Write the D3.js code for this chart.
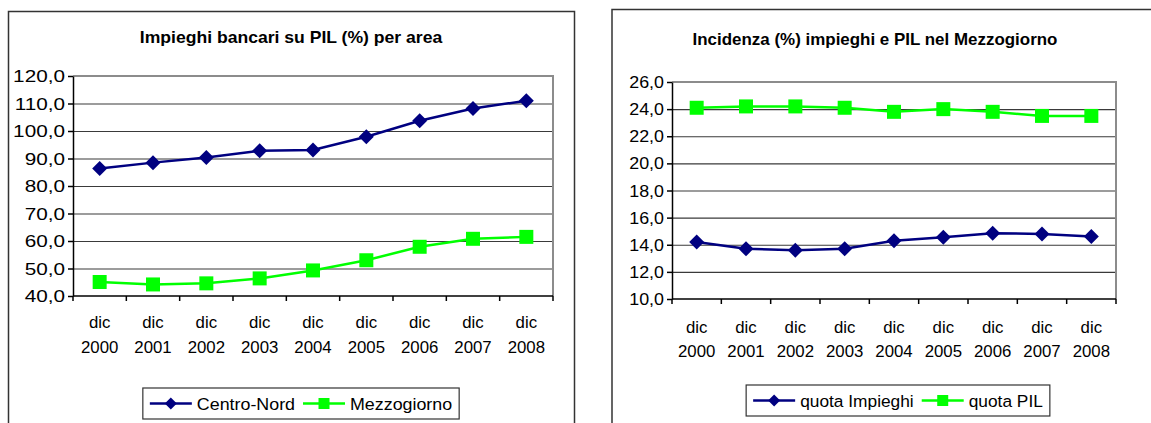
<!DOCTYPE html>
<html>
<head>
<meta charset="utf-8">
<script src="https://cdn.jsdelivr.net/npm/d3@7"></script>
<style>
  body { margin: 0; background: #fff; }
  svg { display: block; font-family: "Liberation Sans", Arial, sans-serif; }
</style>
</head>
<body>
<svg id="chart" width="1151" height="423"></svg>
<script>
var years = ["2000", "2001", "2002", "2003", "2004", "2005", "2006", "2007", "2008"]
var month = "dic"

var centroNord = [86.4, 88.5, 90.4, 92.8, 93.1, 97.9, 103.7, 108.2, 111.0]
var mezzogiorno = [45.1, 44.2, 44.6, 46.4, 49.3, 53.0, 57.9, 60.8, 61.5]
var leftTicks = [40, 50, 60, 70, 80, 90, 100, 110, 120]

var quotaImpieghi = [14.2, 13.7, 13.6, 13.7, 14.3, 14.55, 14.85, 14.8, 14.6]
var quotaPil = [24.1, 24.2, 24.2, 24.1, 23.8, 24.0, 23.8, 23.5, 23.5]
var rightTicks = [10, 12, 14, 16, 18, 20, 22, 24, 26]

var navy = "#000080", green = "#00ff00"
var sx = 1.05  // the picture is a bit stretched sideways

var svg = d3.select("#chart")
var itLocale = d3.formatLocale({ decimal: ",", thousands: ".", grouping: [3], currency: ["", "€"] })
var fmt = itLocale.format(".1f")

var diamond = function (r) { return "M0," + (-r) + "L" + r + ",0L0," + r + "L" + (-r) + ",0Z" }
var square = function (r) { return "M" + (-r) + "," + (-r) + "h" + (2 * r) + "v" + (2 * r) + "h" + (-2 * r) + "Z" }

function stretchedText(g, x, y, str, size, anchor, weight, stretch) {
    return g.append("text")
        .attr("transform", "translate(" + x + "," + y + ") scale(" + (stretch || sx) + ",1)")
        .attr("text-anchor", anchor)
        .style("font-size", size + "px")
        .style("font-weight", weight || "normal")
        .style("fill", "#000")
        .text(str)
}

function drawPanel(cfg) {
    var g = svg.append("g")

    // chart frame
    g.append("rect")
        .attr("x", cfg.box[0]).attr("y", cfg.box[1])
        .attr("width", cfg.box[2]).attr("height", cfg.box[3])
        .attr("fill", "#fff").attr("stroke", "#333").attr("stroke-width", 1.5)

    stretchedText(g, cfg.titleX, cfg.titleY, cfg.title, 16, "middle", "bold", cfg.titleStretch)

    var x = d3.scaleBand().domain(years).range([cfg.plot[0], cfg.plot[1]])
    var y = d3.scaleLinear().domain([cfg.ticks[0], cfg.ticks[cfg.ticks.length - 1]])
        .range([cfg.plot[3], cfg.plot[2]])
    var w = cfg.plot[1] - cfg.plot[0]

    // gridlines
    g.append("g")
        .attr("transform", "translate(" + cfg.plot[0] + ",0)")
        .call(d3.axisLeft(y).tickValues(cfg.ticks.slice(1, -1)).tickSize(-w).tickFormat(""))
        .call(function (a) { a.select(".domain").remove() })
        .selectAll("line").attr("stroke", "#3a3a3a").attr("stroke-width", 1.2)

    // plot border top / right (grey)
    g.append("path")
        .attr("d", "M" + cfg.plot[0] + "," + y(cfg.ticks[cfg.ticks.length - 1]) +
            "H" + cfg.plot[1] + "V" + cfg.plot[3])
        .attr("fill", "none").attr("stroke", "#8c8c8c").attr("stroke-width", 2)

    // y axis
    var yAxis = g.append("g")
        .attr("transform", "translate(" + cfg.plot[0] + ",0)")
        .call(d3.axisLeft(y).tickValues(cfg.ticks).tickSize(5).tickSizeOuter(0).tickFormat(""))
    yAxis.selectAll("path, line").attr("stroke", "#000").attr("stroke-width", 1.5)
    cfg.ticks.forEach(function (t) {
        stretchedText(g, cfg.plot[0] - 8, y(t) + 6, fmt(t), 17, "end", "normal", cfg.yStretch)
    })

    // x axis, ticks between categories
    g.append("line")
        .attr("x1", cfg.plot[0]).attr("x2", cfg.plot[1])
        .attr("y1", cfg.plot[3]).attr("y2", cfg.plot[3])
        .attr("stroke", "#000").attr("stroke-width", 1.5)
    var edges = years.map(function (d) { return x(d) }).concat([cfg.plot[1]])
    g.selectAll(".xtick").data(edges).enter().append("line")
        .attr("x1", function (d) { return d }).attr("x2", function (d) { return d })
        .attr("y1", cfg.plot[3]).attr("y2", cfg.plot[3] + 5)
        .attr("stroke", "#000").attr("stroke-width", 1.5)
    years.forEach(function (yr) {
        var cx = x(yr) + x.bandwidth() / 2
        stretchedText(g, cx, cfg.plot[3] + cfg.labelDy[0], month, 16, "middle")
        stretchedText(g, cx, cfg.plot[3] + cfg.labelDy[1], yr, 16, "middle")
    })

    // series
    var line = d3.line()
        .x(function (d, i) { return x(years[i]) + x.bandwidth() / 2 })
        .y(function (d) { return y(d) })
    cfg.series.forEach(function (s) {
        g.append("path").datum(s.values)
            .attr("d", line)
            .attr("fill", "none").attr("stroke", s.color).attr("stroke-width", 2.5)
        g.selectAll(null).data(s.values).enter().append("path")
            .attr("transform", function (d, i) {
                return "translate(" + (x(years[i]) + x.bandwidth() / 2) + "," + y(d) + ")"
            })
            .attr("d", s.marker === "diamond" ? diamond(7.5) : square(7))
            .attr("fill", s.color)
    })

    // legend, items laid out one after the other and centred on lg.cx
    var lg = cfg.legend
    var box = g.append("rect")
        .attr("fill", "#fff").attr("stroke", "#333").attr("stroke-width", 1.2)
    var items = g.append("g")
    var ly = lg.y + lg.h / 2
    var cursor = 0
    cfg.series.forEach(function (s, i) {
        var lx = cursor
        items.append("line")
            .attr("x1", lx).attr("x2", lx + 42)
            .attr("y1", ly).attr("y2", ly)
            .attr("stroke", s.color).attr("stroke-width", 2.5)
        items.append("path")
            .attr("transform", "translate(" + (lx + 21) + "," + ly + ")")
            .attr("d", s.marker === "diamond" ? diamond(6) : square(5.5))
            .attr("fill", s.color)
        var t = stretchedText(items, lx + 47, ly + 6, s.name, lg.size, "start")
        cursor = lx + 47 + t.node().getComputedTextLength() * sx + 8
    })
    var contentW = cursor - 8
    var pad = 7
    var bw = contentW + 2 * pad
    var bx = lg.cx - bw / 2
    items.attr("transform", "translate(" + (bx + pad) + ",0)")
    box.attr("x", bx).attr("y", lg.y).attr("width", bw).attr("height", lg.h)
}

drawPanel({
    box: [8.5, 11.5, 566, 450],
    title: "Impieghi bancari su PIL (%) per area",
    titleX: 291, titleY: 43, titleStretch: 1.1,
    plot: [73, 553, 76, 296],
    ticks: leftTicks, yStretch: 1.22,
    labelDy: [32, 57],
    series: [
        { name: "Centro-Nord", values: centroNord, color: navy, marker: "diamond" },
        { name: "Mezzogiorno", values: mezzogiorno, color: green, marker: "square" }
    ],
    legend: { cx: 301, y: 388, h: 31, size: 17 }
})

drawPanel({
    box: [612, 9.5, 560, 450],
    title: "Incidenza (%) impieghi e PIL nel Mezzogiorno",
    titleX: 875, titleY: 45, titleStretch: 1.06,
    plot: [672, 1116, 82, 299],
    ticks: rightTicks, yStretch: 1.05,
    labelDy: [34, 58],
    series: [
        { name: "quota Impieghi", values: quotaImpieghi, color: navy, marker: "diamond" },
        { name: "quota PIL", values: quotaPil, color: green, marker: "square" }
    ],
    legend: { cx: 898, y: 385, h: 31, size: 16.5 }
})
</script>
</body>
</html>
